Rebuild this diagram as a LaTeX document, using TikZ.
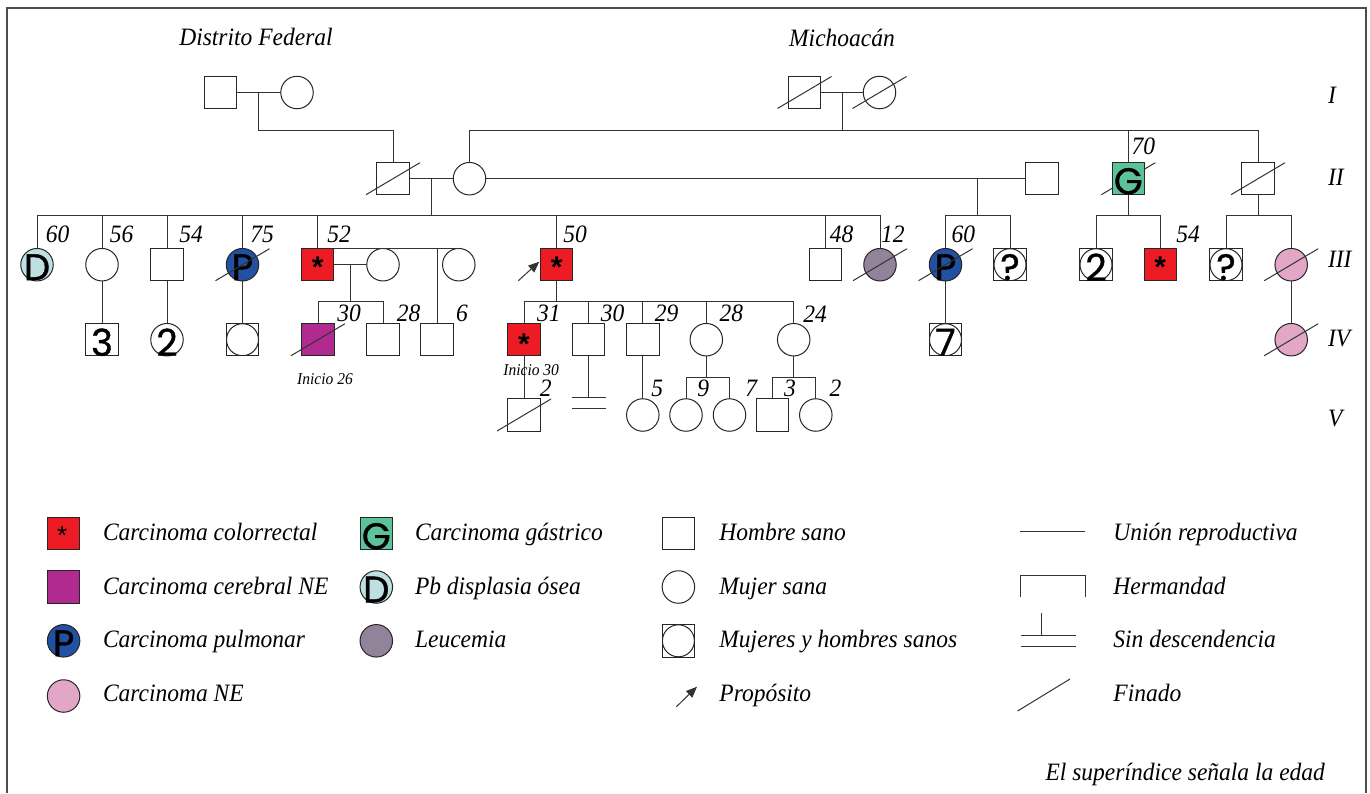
\documentclass[tikz,border=0pt]{standalone}
\usepackage{fontspec}
\setmainfont{Liberation Serif}[FakeStretch=0.94]
\setsansfont{Liberation Sans}
\newfontfamily\symfont{Poppins}[FakeBold=1.0]
\usetikzlibrary{calc,arrows.meta}
\definecolor{cred}{HTML}{ED1C24}
\definecolor{cmag}{HTML}{B02A8F}
\definecolor{cblue}{HTML}{2251A3}
\definecolor{cpink}{HTML}{E2A6C6}
\definecolor{clblue}{HTML}{BFE0E3}
\definecolor{cgrey}{HTML}{918399}
\definecolor{cgreen}{HTML}{5BC29A}
\newcommand\finado[1]{\draw[pline] ([shift={(-27,16)}]#1.center) -- ([shift={(27,-16)}]#1.center);}
\begin{document}
\begin{tikzpicture}[x=1pt,y=-1pt,
  every node/.style={inner sep=0pt, outer sep=0pt},
  pline/.style={line width=1pt, draw=black!80},
  sym/.style={draw=black!85, line width=1pt, minimum size=32.5pt, inner sep=0pt, fill=white},
  male/.style={sym, rectangle},
  female/.style={sym, circle},
  mixsym/.style={sym, rectangle, path picture={\draw[black!85, line width=1pt] (path picture bounding box.center) circle (16pt);}},
  symtxt/.style={label={[font=\symfont\fontsize{37}{37}\selectfont, yshift=-2.5pt]center:#1}},
  ast/.style={font=\sffamily\bfseries\fontsize{30}{30}\selectfont, anchor=base},
  age/.style={font=\itshape\fontsize{25}{28}\selectfont},
  small/.style={font=\itshape\fontsize{16.5}{18}\selectfont},
  legtxt/.style={font=\itshape\fontsize{25}{28}\selectfont, anchor=base west},
  arr/.style={pline, -{Triangle[length=11pt,width=9pt]}}
]
\useasboundingbox (0,0) rectangle (1370,793);
\draw[line width=1.8pt, black!70] (7,793) -- (7,8.3) -- (1366,8.3) -- (1366,793);

% headings
\node[age, anchor=base] (hdf) at (256,45.7) {Distrito Federal};
\node[age, anchor=base] (hmi) at (842,46) {Michoacán};

% generation labels
\node[age, anchor=west] (R1) at (1328,95.8) {I};
\node[age, anchor=west] (R2) at (1328,177) {II};
\node[age, anchor=west] (R3) at (1328,259) {III};
\node[age, anchor=west] (R4) at (1328,338.7) {IV};
\node[age, anchor=west] (R5) at (1328,418) {V};

% Gen I
\node[male] (m1) at (220.5,92.5) {};
\node[female] (f1) at (297,92.5) {};
\node[male] (m2) at (804.5,92.5) {};
\node[female] (f2) at (879.5,92.5) {};

% Gen II
\node[male] (a) at (393,178.7) {};
\node[female] (b) at (469.5,178.7) {};
\node[male] (c) at (1042,178.7) {};
\coordinate (gpos) at (1128.3,178.7);
\draw[pline] ([shift={(-27,16)}]gpos) -- ([shift={(27,-16)}]gpos);
\node[male, fill=cgreen, symtxt=G] (g) at (gpos) {};
\node[male] (r) at (1258,178.7) {};

% Gen III
\node[female, fill=clblue, symtxt=D] (d1) at (37,264.7) {};
\node[female] (d2) at (102,264.7) {};
\node[male] (d3) at (167,264.7) {};
\node[female, fill=cblue, symtxt=P] (d4) at (242.5,264.7) {};
\node[male, fill=cred] (d5) at (317.7,264.7) {};
\node[female] (d5w) at (383,264.7) {};
\node[female] (d5v) at (458.8,264.7) {};
\node[male, fill=cred] (d6) at (556.7,264.7) {};
\node[male] (d7) at (825.3,264.7) {};
\node[female, fill=cgrey] (d8) at (880,264.7) {};
\node[female, fill=cblue, symtxt=P] (e1) at (945.5,264.7) {};
\node[mixsym, symtxt=?] (e2) at (1010,264.7) {};
\node[mixsym, symtxt=2] (h1) at (1096,264.7) {};
\node[male, fill=cred] (h2) at (1160.3,264.7) {};
\node[mixsym, symtxt=?] (k1) at (1226,264.7) {};
\node[female, fill=cpink] (k2) at (1291.2,264.7) {};

% Gen IV
\node[male, symtxt=3] (n1) at (102,339.7) {};
\node[female, symtxt=2] (n2) at (167,339.7) {};
\node[mixsym] (n3) at (242.5,339.7) {};
\node[male, fill=cmag] (n4) at (318,339.7) {};
\node[male] (n5) at (383,339.7) {};
\node[male] (n6) at (437,339.7) {};
\node[male, fill=cred] (p1) at (524,339.7) {};
\node[male] (p2) at (588.7,339.7) {};
\node[male] (p3) at (642.8,339.7) {};
\node[female] (p4) at (706.3,339.7) {};
\node[female] (p5) at (793.7,339.7) {};
\node[mixsym, symtxt=7] (q1) at (945.5,339.7) {};
\node[female, fill=cpink] (k3) at (1291.2,339.7) {};

% Gen V
\node[male] (v1) at (524,415) {};
\node[female] (v2) at (642.8,415) {};
\node[female] (v3) at (686,415) {};
\node[female] (v4) at (729.5,415) {};
\node[male] (v5) at (772.5,415) {};
\node[female] (v6) at (815.8,415) {};

% asterisks
\node[ast] (a5) at ([shift={(0,12.75)}]d5.center) {*};
\node[ast] (a6) at ([shift={(0,12.75)}]d6.center) {*};
\node[ast] (a7) at ([shift={(0,12.75)}]h2.center) {*};
\node[ast] (a8) at ([shift={(0,14.5)}]p1.center) {*};

% levels
\coordinate (LI) at (0,130.5);
\coordinate (LII) at (0,215.5);
\coordinate (LIII) at (0,301.5);
\coordinate (LIV) at (0,377.5);

% Gen I -> II
\draw[pline] (m1) -- (f1);
\coordinate (u1) at ($(m1.east)!.5!(f1.west)$);
\draw[pline] (u1) -- (u1 |- LI) -| (a.north);
\draw[pline] (m2) -- (f2);
\coordinate (u2) at ($(m2.east)!.5!(f2.west)$);
\draw[pline] (u2) -- (u2 |- LI);
\draw[pline] (b.north) -- (b.north |- LI) -| (r.north);
\draw[pline] (g.north) -- (g.north |- LI);

% Gen II -> III
\draw[pline] (a) -- (b);
\draw[pline] (b) -- (c);
\coordinate (u3) at ($(a.east)!.5!(b.west)$);
\draw[pline] (u3) -- (u3 |- LII);
\draw[pline] (d1.north) -- (d1.north |- LII) -| (d8.north);
\foreach \n in {d2,d3,d4,d5,d6,d7} \draw[pline] (\n.north) -- (\n.north |- LII);
\coordinate (u4) at ($(e1.center)!.5!(e2.center)$);
\draw[pline] (u4 |- b) -- (u4 |- LII);
\draw[pline] (e1.north) -- (e1.north |- LII) -| (e2.north);
\draw[pline] (g.south) -- (g.south |- LII);
\draw[pline] (h1.north) -- (h1.north |- LII) -| (h2.north);
\draw[pline] (r.south) -- (r.south |- LII);
\draw[pline] (k1.north) -- (k1.north |- LII) -| (k2.north);

% Gen III -> IV
\draw[pline] (d2) -- (n1);
\draw[pline] (d3) -- (n2);
\draw[pline] (d4) -- (n3);
\draw[pline] (d5) -- (d5w);
\coordinate (u5) at ($(d5.east)!.5!(d5w.west)$);
\draw[pline] (u5) -- (u5 |- LIII);
\draw[pline] (n4.north) -- (n4.north |- LIII) -| (n5.north);
\draw[pline] (d5.north east) -- (d5v.north);
\draw[pline] (n6.north |- d5.north) -- (n6.north);
\draw[pline] (d6.south) -- (d6.south |- LIII);
\draw[pline] (p1.north) -- (p1.north |- LIII) -| (p5.north);
\foreach \n in {p2,p3,p4} \draw[pline] (\n.north) -- (\n.north |- LIII);
\draw[pline] (e1) -- (q1);
\draw[pline] (k2) -- (k3);

% Gen IV -> V
\draw[pline] (p1) -- (v1);
\coordinate (nd) at ($(p2.south)+(0,42)$);
\draw[pline] (p2.south) -- (nd);
\draw[pline] ([shift={(-17,0)}]nd) -- ([shift={(17,0)}]nd);
\draw[pline] ([shift={(-17,10.7)}]nd) -- ([shift={(17,10.7)}]nd);
\draw[pline] (p3) -- (v2);
\draw[pline] (p4.south) -- (p4.south |- LIV);
\draw[pline] (v3.north) -- (v3.north |- LIV) -| (v4.north);
\draw[pline] (p5.south) -- (p5.south |- LIV);
\draw[pline] (v5.north) -- (v5.north |- LIV) -| (v6.north);

% deceased
\finado{m2} \finado{f2} \finado{a} \finado{r}
\finado{d4} \finado{d8} \finado{e1} \finado{k2}
\finado{n4} \finado{k3} \finado{v1}

% proband arrow
\draw[arr] ([shift={(-38.4,16)}]d6.center) -- ([shift={(-17.4,-3)}]d6.center);

% ages
\node[age] (t1) at (57.7,234.7) {60};
\node[age] (t2) at (121.7,234.7) {56};
\node[age] (t3) at (191,234.7) {54};
\node[age] (t4) at (262,234.7) {75};
\node[age] (t5) at (339,234.7) {52};
\node[age] (t6) at (575,234.7) {50};
\node[age] (t7) at (841.7,234.7) {48};
\node[age] (t8) at (892.8,234.7) {12};
\node[age] (t9) at (963.3,234.7) {60};
\node[age] (t10) at (1143.3,146.7) {70};
\node[age] (t11) at (1188,234.7) {54};
\node[age] (t12) at (349,313.8) {30};
\node[age] (t13) at (408.7,313.8) {28};
\node[age] (t14) at (462,313.8) {6};
\node[age] (t15) at (548.8,313.8) {31};
\node[age] (t16) at (612.5,313.8) {30};
\node[age] (t17) at (666.7,313.8) {29};
\node[age] (t18) at (731.3,313.8) {28};
\node[age] (t19) at (815.2,313.8) {24};
\node[age] (t20) at (545.8,388) {2};
\node[age] (t21) at (657.2,388) {5};
\node[age] (t22) at (703.2,388) {9};
\node[age] (t23) at (751.3,388) {7};
\node[age] (t24) at (790,388) {3};
\node[age] (t25) at (835.5,388) {2};
\node[small] (i1) at (325,379.5) {Inicio 26};
\node[small] (i2) at (531.2,370) {Inicio 30};

% legend symbols
\node[male, fill=cred] (L1) at (63.6,533.7) {};
\node[font=\sffamily\fontsize{26}{26}\selectfont, anchor=base] (L1a) at ([shift={(-1.5,10.3)}]L1.center) {*};
\node[male, fill=cmag] (L2) at (63.6,587) {};
\node[female, fill=cblue, symtxt=P] (L3) at (63.6,640.8) {};
\node[female, fill=cpink] (L4) at (63.6,696) {};
\node[male, fill=cgreen, symtxt=G] (L5) at (376.3,533.7) {};
\node[female, fill=clblue, symtxt=D] (L6) at (376.3,587) {};
\node[female, fill=cgrey] (L7) at (376.3,640.8) {};
\node[male] (L8) at (678.4,533.7) {};
\node[female] (L9) at (678.4,587) {};
\node[mixsym] (L10) at (678.4,640.8) {};
\coordinate (pa1) at (676.4,706.7);
\coordinate (pa2) at (697,686.7);
\draw[arr] (pa1) -- (pa2);

% legend lines
\coordinate (un1) at (1020,531.7);
\coordinate (un2) at (1085.3,531.7);
\draw[pline] (un1) -- (un2);
\coordinate (he1) at (1020,596.7);
\coordinate (he2) at (1085.3,575);
\draw[pline] (he1) |- (he2) -- (he2 |- he1);
\coordinate (sd) at (1041.9,635.7);
\draw[pline] (sd) -- ++(0,-22.4);
\draw[pline] (1020.8,635.7) -- (1075.5,635.7);
\draw[pline] (1020.8,646) -- (1075.5,646);
\coordinate (fi1) at (1017.6,711);
\coordinate (fi2) at (1070,679);
\draw[pline] (fi1) -- (fi2);

% legend texts
\node[legtxt] (T1) at (103,540.7) {Carcinoma colorrectal};
\node[legtxt] (T2) at (103,594.2) {Carcinoma cerebral NE};
\node[legtxt] (T3) at (103,647.7) {Carcinoma pulmonar};
\node[legtxt] (T4) at (103,701.2) {Carcinoma NE};
\node[legtxt] (T5) at (415,540.7) {Carcinoma gástrico};
\node[legtxt] (T6) at (415,594.2) {Pb displasia ósea};
\node[legtxt] (T7) at (415,647.7) {Leucemia};
\node[legtxt] (T8) at (719.4,540.7) {Hombre sano};
\node[legtxt] (T9) at (719.4,594.2) {Mujer sana};
\node[legtxt] (T10) at (719.4,647.7) {Mujeres y hombres sanos};
\node[legtxt] (T11) at (719.4,701.2) {Propósito};
\node[legtxt] (T12) at (1113.4,540.7) {Unión reproductiva};
\node[legtxt] (T13) at (1113.4,594.2) {Hermandad};
\node[legtxt] (T14) at (1113.4,647.7) {Sin descendencia};
\node[legtxt] (T15) at (1113.4,701.2) {Finado};
\node[legtxt] (T16) at (1045.6,780) {El superíndice señala la edad};
\end{tikzpicture}
\end{document}
